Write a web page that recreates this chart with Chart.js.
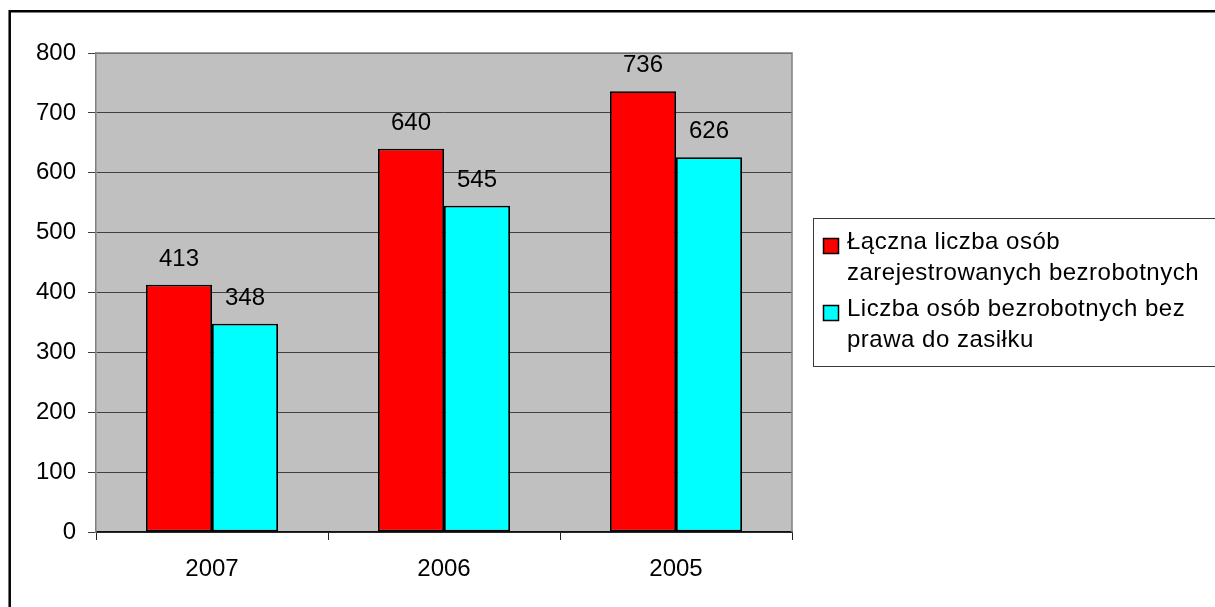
<!DOCTYPE html>
<html>
<head>
<meta charset="utf-8">
<script src="https://cdn.jsdelivr.net/npm/chart.js@4/dist/chart.umd.min.js"></script>
<style>
  html, body { margin: 0; padding: 0; background: #fff; }
  canvas { display: block; }
</style>
</head>
<body>
<canvas id="chart" width="1215" height="607"></canvas>
<script>
const years = ["2007", "2006", "2005"];
const totalUnemployed = [413, 640, 736];
const withoutBenefit = [348, 545, 626];
const seriesNames = [
  ["Łączna liczba osób", "zarejestrowanych bezrobotnych"],
  ["Liczba osób bezrobotnych bez", "prawa do zasiłku"],
];
const seriesColors = ["#FF0000", "#00FFFF"];
const yMin = 0;
const yMax = 800;
const yStep = 100;

const font = { family: "'Liberation Sans', Arial, sans-serif", size: 24 };

// gray plot area and the outer frame
const framePlugin = {
  id: "frame",
  beforeDraw(chart) {
    const { ctx, chartArea } = chart;
    ctx.save();
    ctx.fillStyle = "#C0C0C0";
    ctx.fillRect(chartArea.left, chartArea.top,
      chartArea.right - chartArea.left, chartArea.bottom - chartArea.top);
    ctx.strokeStyle = "#000";
    ctx.lineWidth = 2.5;
    ctx.beginPath();
    ctx.moveTo(9.7, chart.height + 5);
    ctx.lineTo(9.7, 11.3);
    ctx.lineTo(chart.width + 5, 11.3);
    ctx.stroke();
    ctx.restore();
  },
  afterDraw(chart) {
    const { ctx, chartArea } = chart;
    ctx.save();
    ctx.strokeStyle = "#808080";
    ctx.lineWidth = 1.5;
    ctx.beginPath();
    ctx.moveTo(chartArea.left, chartArea.top);
    ctx.lineTo(chartArea.right, chartArea.top);
    ctx.lineTo(chartArea.right, chartArea.bottom);
    ctx.stroke();
    ctx.restore();
  },
};

// value above every bar
const valueLabels = {
  id: "valueLabels",
  afterDatasetsDraw(chart) {
    const { ctx } = chart;
    ctx.save();
    ctx.font = `${font.size}px ${font.family}`;
    ctx.fillStyle = "#000";
    ctx.textAlign = "center";
    ctx.textBaseline = "alphabetic";
    chart.data.datasets.forEach((ds, i) => {
      chart.getDatasetMeta(i).data.forEach((bar, j) => {
        ctx.fillText(String(ds.data[j]), bar.x, bar.y - 19);
      });
    });
    ctx.restore();
  },
};

// boxed legend on the right, two-line entries
const boxLegend = {
  id: "boxLegend",
  afterDraw(chart) {
    const { ctx } = chart;
    ctx.save();
    ctx.strokeStyle = "#3a3a3a";
    ctx.lineWidth = 1;
    ctx.strokeRect(813.5, 218.5, 500, 148);
    ctx.font = `24px ${font.family}`;
    ctx.letterSpacing = "0.5px";
    ctx.textAlign = "left";
    ctx.textBaseline = "alphabetic";
    const baselines = [249, 316];
    chart.data.datasets.forEach((ds, i) => {
      const b = baselines[i];
      ctx.fillStyle = ds.backgroundColor;
      ctx.fillRect(823.5, b - 10.5, 15, 15);
      ctx.strokeStyle = "#000";
      ctx.lineWidth = 1.5;
      ctx.strokeRect(823.5, b - 10.5, 15, 15);
      ctx.fillStyle = "#000";
      seriesNames[i].forEach((line, k) => {
        ctx.fillText(line, 847, b + k * 31);
      });
    });
    ctx.restore();
  },
};

new Chart(document.getElementById("chart"), {
  type: "bar",
  data: {
    labels: years,
    datasets: [
      {
        label: seriesNames[0].join(" "),
        data: totalUnemployed,
        backgroundColor: seriesColors[0],
      },
      {
        label: seriesNames[1].join(" "),
        data: withoutBenefit,
        backgroundColor: seriesColors[1],
      },
    ],
  },
  options: {
    responsive: false,
    animation: false,
    events: [],
    layout: { padding: { top: 53, right: 423, left: 0, bottom: 0 } },
    datasets: {
      bar: {
        categoryPercentage: 0.569,
        barPercentage: 1.0,
        borderColor: "#000",
        borderWidth: 1.8,
        borderSkipped: false,
      },
    },
    plugins: {
      legend: { display: false },
      tooltip: { enabled: false },
    },
    scales: {
      x: {
        grid: {
          offset: true,
          drawOnChartArea: false,
          drawTicks: true,
          tickLength: 8,
          color: "#222",
        },
        border: { color: "#111", width: 1.5 },
        ticks: { color: "#000", font: font, padding: 15 },
        afterFit(scale) { scale.height = 75; },
      },
      y: {
        min: yMin,
        max: yMax,
        grid: { color: "#404040", tickLength: 8, lineWidth: 1 },
        border: { color: "#808080", width: 1.5 },
        ticks: { stepSize: yStep, color: "#000", font: font, padding: 12 },
        afterFit(scale) { scale.width = 96; },
      },
    },
  },
  plugins: [framePlugin, valueLabels, boxLegend],
});
</script>
</body>
</html>
